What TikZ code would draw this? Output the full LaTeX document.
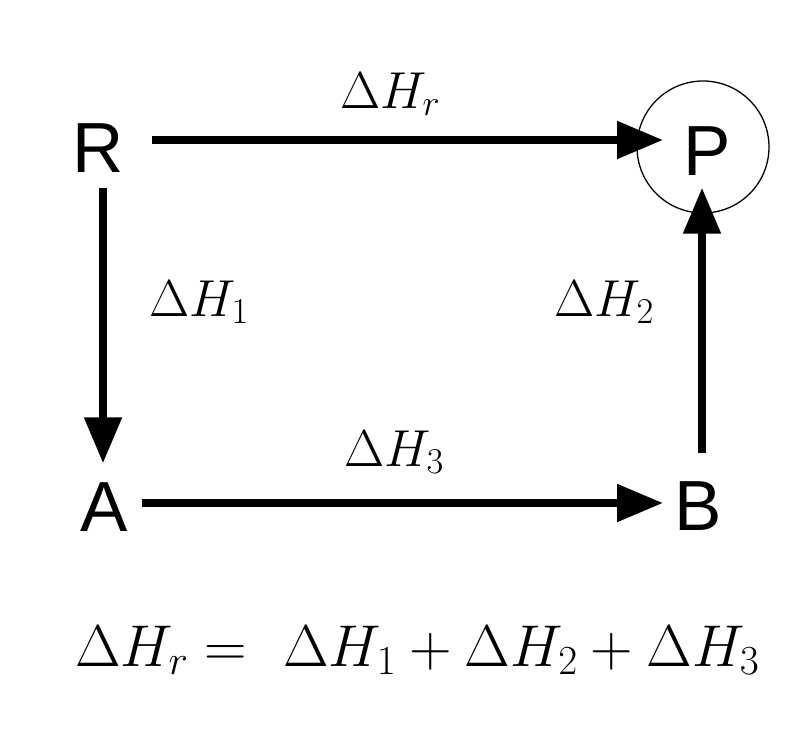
\RequirePackage{fix-cm}
\documentclass[tikz,border=0pt]{standalone}
\usepackage{fontspec}
\setsansfont{Liberation Sans}
\usetikzlibrary{arrows.meta}
\begin{document}
\begin{tikzpicture}[x=1pt,y=-1pt,
  letter/.style={font=\sffamily\fontsize{71}{71}\selectfont, inner sep=0pt},
  lab/.style={font=\fontsize{52}{52}\selectfont, inner sep=0pt, anchor=base west},
  eqn/.style={font=\fontsize{59}{59}\selectfont, inner sep=0pt, anchor=base west},
  arr/.style={line width=8pt, -{Triangle[length=46pt,width=36pt]}},
  ring/.style={draw, circle, line width=1.3pt, minimum size=132pt, inner sep=0pt},
]
\useasboundingbox (0,0) rectangle (802,728);
\node[ring] (Pc) at (703,147) {};
\node[letter] (R) at (98,148) {R};
\node[letter] (P) at (707,151) {P};
\node[letter] (A) at (104,507) {A};
\node[letter] (B) at (698,506) {B};
\draw[arr] ([shift={(28,-8)}]R.east) -- ([shift={(-20,-11)}]P.west);
\draw[arr] ([shift={(5,15)}]R.south) -- ([shift={(-1,-19)}]A.north);
\draw[arr] ([shift={(14,-4)}]A.east) -- ([shift={(-11,-3)}]B.west);
\draw[arr] ([shift={(4,-28)}]B.north) -- ([shift={(-5,12)}]P.south);
\node[lab] (Lr) at (340,108) {$\Delta H_r$};
\node[lab] (L1) at (149,316) {$\Delta H_1$};
\node[lab] (L2) at (554,316) {$\Delta H_2$};
\node[lab] (L3) at (344,466) {$\Delta H_3$};
\node[eqn] (Eq) at (75,666) {$\Delta H_r =\,\, \Delta H_1 + \Delta H_2 + \Delta H_3$};
\end{tikzpicture}
\end{document}
